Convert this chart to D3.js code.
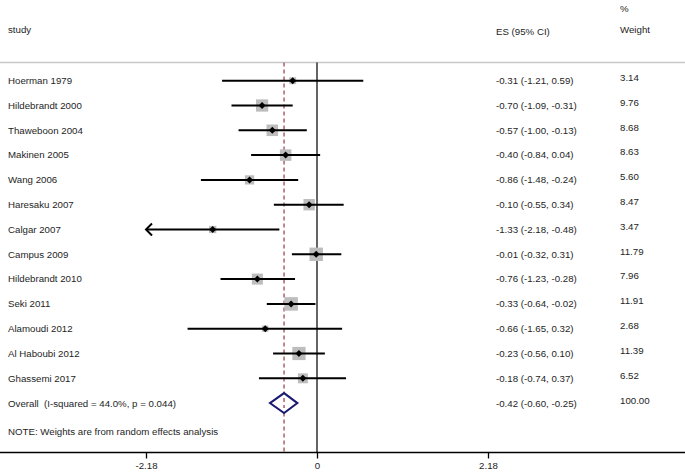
<!DOCTYPE html>
<html>
<head>
<meta charset="utf-8">
<script src="https://cdn.jsdelivr.net/npm/d3@7"></script>
<style>
  html, body { margin: 0; padding: 0; background: #fff; }
  svg text { font-family: "Liberation Sans", Arial, sans-serif; fill: #1e1e1e; white-space: pre; }
</style>
</head>
<body>
<svg id="chart" width="685" height="473"></svg>
<script>
const studies = ["Hoerman 1979","Hildebrandt 2000","Thaweboon 2004","Makinen 2005","Wang 2006","Haresaku 2007","Calgar 2007","Campus 2009","Hildebrandt 2010","Seki 2011","Alamoudi 2012","Al Haboubi 2012","Ghassemi 2017"];
const es    = [-0.31,-0.70,-0.57,-0.40,-0.86,-0.10,-1.33,-0.01,-0.76,-0.33,-0.66,-0.23,-0.18];
const lower = [-1.21,-1.09,-1.00,-0.84,-1.48,-0.55,-2.18,-0.32,-1.23,-0.64,-1.65,-0.56,-0.74];
const upper = [ 0.59,-0.31,-0.13, 0.04,-0.24, 0.34,-0.48, 0.31,-0.28,-0.02, 0.32, 0.10, 0.37];
const weights = ["3.14","9.76","8.68","8.63","5.60","8.47","3.47","11.79","7.96","11.91","2.68","11.39","6.52"];
const overallLabel = "Overall\u00A0\u00A0(I-squared = 44.0%, p = 0.044)";
const overall = {es: -0.42, lower: -0.60, upper: -0.25, weight: "100.00"};
const tickValues = [-2.18, 0, 2.18];
const tickLabels = ["-2.18", "0", "2.18"];
const note = "NOTE: Weights are from random effects analysis";

const svg = d3.select("#chart");
const W = 685;
const FS = 9.7;

const x = d3.scaleLinear().domain([-2.18, 2.18]).range([146, 488]);
const rows = studies.concat([overallLabel]);
const y = d3.scalePoint().domain(rows).range([80.7, 403.1]);
const boxScale = d3.scaleSqrt().domain([0, 11.91]).range([0, 13.5]);

const fmt = v => v.toFixed(2);
const esText = (e, l, u) => `${fmt(e)} (${fmt(l)}, ${fmt(u)})`;

const axisY = 452.5;
const topY = 62.5;

// header
svg.append("text").attr("x", 8).attr("y", 30).attr("dy", "0.35em").style("font-size", FS + "px").text("study");
svg.append("text").attr("x", 496).attr("y", 32).attr("dy", "0.35em").style("font-size", FS + "px").text("ES (95% CI)");
svg.append("text").attr("x", 620).attr("y", 9).attr("dy", "0.35em").style("font-size", FS + "px").text("%");
svg.append("text").attr("x", 620).attr("y", 30).attr("dy", "0.35em").style("font-size", FS + "px").text("Weight");

svg.append("line").attr("x1", 0).attr("x2", W).attr("y1", topY).attr("y2", topY)
  .attr("stroke", "#c8c8c8").attr("stroke-width", 1.5);

// null line
svg.append("line").attr("x1", x(0)).attr("x2", x(0)).attr("y1", topY).attr("y2", axisY)
  .attr("stroke", "#111").attr("stroke-width", 1.3);

// overall dashed line
svg.append("line").attr("x1", x(overall.es)).attr("x2", x(overall.es)).attr("y1", topY).attr("y2", axisY)
  .attr("stroke", "#a8555f").attr("stroke-width", 1.4).attr("stroke-dasharray", "4,3");

// study rows
const data = studies.map((s, i) => ({s, es: es[i], lo: lower[i], hi: upper[i], w: weights[i]}));
const g = svg.append("g");
data.forEach(d => {
  const cy = y(d.s);
  const side = boxScale(+d.w);
  g.append("rect").attr("x", x(d.es) - side/2).attr("y", cy - side/2).attr("width", side).attr("height", side)
    .attr("fill", "#bdbdbd");
  const clipped = d.lo <= x.domain()[0];
  g.append("line").attr("x1", x(d.lo)).attr("x2", x(d.hi)).attr("y1", cy).attr("y2", cy)
    .attr("stroke", "#000").attr("stroke-width", 2);
  if (clipped) {
    const ax = x(d.lo);
    g.append("path").attr("d", `M${ax + 6},${cy - 6}L${ax},${cy}L${ax + 6},${cy + 6}`)
      .attr("fill", "none").attr("stroke", "#000").attr("stroke-width", 2);
  }
  const px = x(d.es);
  g.append("path").attr("d", `M${px},${cy - 3.5}L${px + 3.5},${cy}L${px},${cy + 3.5}L${px - 3.5},${cy}Z`).attr("fill", "#000");
  g.append("text").attr("x", 8).attr("y", cy).attr("dy", "0.35em").style("font-size", FS + "px").text(d.s);
  g.append("text").attr("x", 496).attr("y", cy).attr("dy", "0.35em").style("font-size", FS + "px").text(esText(d.es, d.lo, d.hi));
  g.append("text").attr("x", 620).attr("y", cy - 3).attr("dy", "0.35em").style("font-size", FS + "px").text(d.w);
});

// overall
const oy = y(overallLabel);
svg.append("path")
  .attr("d", `M${x(overall.lower)},${oy}L${x(overall.es)},${oy - 10}L${x(overall.upper)},${oy}L${x(overall.es)},${oy + 10}Z`)
  .attr("fill", "#fff").attr("stroke", "#1a1a72").attr("stroke-width", 2);
svg.append("line").attr("x1", x(overall.es)).attr("x2", x(overall.es)).attr("y1", oy - 5).attr("y2", oy + 5)
  .attr("stroke", "#a8555f").attr("stroke-width", 1.4).attr("stroke-dasharray", "4,3");
svg.append("text").attr("x", 8).attr("y", oy + 1).attr("dy", "0.35em").style("font-size", FS + "px").text(overallLabel);
svg.append("text").attr("x", 496).attr("y", oy + 1).attr("dy", "0.35em").style("font-size", FS + "px").text(esText(overall.es, overall.lower, overall.upper));
svg.append("text").attr("x", 620).attr("y", oy - 2).attr("dy", "0.35em").style("font-size", FS + "px").text(overall.weight);

// note
svg.append("text").attr("x", 8).attr("y", 432).attr("dy", "0.35em").style("font-size", FS + "px").text(note);

// axis
svg.append("line").attr("x1", 0).attr("x2", W).attr("y1", axisY).attr("y2", axisY).attr("stroke", "#000").attr("stroke-width", 1.3);
const axis = d3.axisBottom(x).tickValues(tickValues).tickSize(6).tickPadding(4)
  .tickFormat((d, i) => tickLabels[i]);
const ag = svg.append("g").attr("transform", `translate(0,${axisY})`).call(axis);
ag.select(".domain").remove();
ag.selectAll(".tick line").attr("stroke", "#000").attr("stroke-width", 1.3);
ag.selectAll(".tick text").style("font-size", FS + "px").attr("fill", "#1e1e1e")
  .style("font-family", '"Liberation Sans", Arial, sans-serif');
</script>
</body>
</html>
